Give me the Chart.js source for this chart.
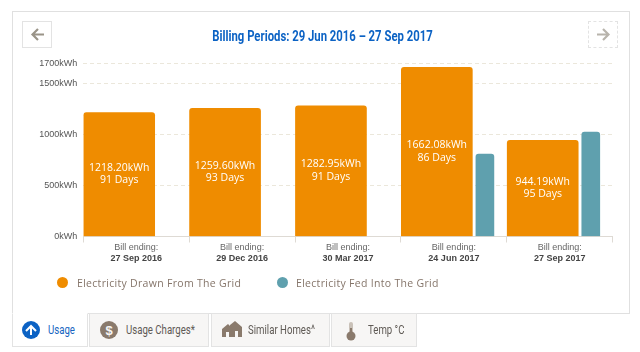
<!DOCTYPE html>
<html>
<head>
<meta charset="utf-8">
<title>Billing Periods</title>
<script src="https://cdn.jsdelivr.net/npm/chart.js@4"></script>
<style>
html, body { margin: 0; padding: 0; background: #fff; }
#page { position: relative; width: 640px; height: 352px; overflow: hidden; font-family: "Liberation Sans", sans-serif; filter: blur(0.35px); }
#card { position: absolute; left: 12px; top: 11px; width: 616px; height: 301px; border: 1px solid #e0e0e0; }
#chart { position: absolute; left: 0; top: 0; }
.nav { position: absolute; top: 21px; width: 28px; height: 25px; box-sizing: content-box; }
#prev { left: 22px; border: 1px solid #e3e3e3; }
#next { left: 588px; border: 1px dashed #e3e3e3; }
.nav svg { position: absolute; left: 7px; top: 5px; }
#title { position: absolute; left: 160px; width: 325px; top: 27px; text-align: center; font: 700 15px Roboto, sans-serif; color: #0b62c4; transform: scaleX(0.755); white-space: nowrap; }
.legend { position: absolute; top: 276px; font: 10.5px "Open Sans", sans-serif; letter-spacing: 0.3px; color: #85756a; line-height: 14px; white-space: nowrap; }
.dot { position: absolute; top: 277px; width: 11px; height: 11px; border-radius: 50%; }
.tab { position: absolute; top: 313px; height: 32px; background: #f7f6f5; border: 1px solid #e3e3e3; border-top: 1px solid #e3e3e3; box-sizing: content-box; }
.tab span { position: absolute; top: 8px; font: 400 13px Roboto, sans-serif; color: #5f5a55; white-space: nowrap; transform: scaleX(0.74); transform-origin: left center; }
.tab svg { position: absolute; top: 7px; }
#tabUsage { left: 12px; width: 74px; background: #fff; border-top: 1px solid #fff; }
#tabUsage span { color: #1665c1; }
</style>
</head>
<body>
<div id="page">
  <div id="card"></div>
  <canvas id="chart" width="640" height="352"></canvas>
  <div class="nav" id="prev"><svg width="15" height="15" viewBox="0 0 15 15"><path d="M14 7.5H3M8 2L2.5 7.5L8 13" fill="none" stroke="#9a9488" stroke-width="2.2"/></svg></div>
  <div class="nav" id="next"><svg width="15" height="15" viewBox="0 0 15 15"><path d="M1 7.5H12M7 2L12.5 7.5L7 13" fill="none" stroke="#b8b4ac" stroke-width="2.2"/></svg></div>
  <div id="title">Billing Periods: 29 Jun 2016 – 27 Sep 2017</div>
  <div class="dot" style="left:57px;background:#ef8c00"></div>
  <div class="legend" style="left:77px">Electricity Drawn From The Grid</div>
  <div class="dot" style="left:277px;background:#5fa0ae"></div>
  <div class="legend" style="left:296px">Electricity Fed Into The Grid</div>

  <div class="tab" id="tabUsage">
    <svg style="left:9px" width="18" height="18" viewBox="0 0 18 18"><circle cx="9" cy="9" r="9" fill="#0b62c4"/><path d="M4 10L9 5L14 10M9 6V14" fill="none" stroke="#fff" stroke-width="2"/></svg>
    <span style="left:35px">Usage</span>
  </div>
  <div class="tab" style="left:89px;width:118px">
    <svg style="left:10px" width="18" height="18" viewBox="0 0 18 18"><circle cx="9" cy="9" r="9" fill="#8a7a6c"/><text x="9" y="14" text-anchor="middle" font-family="Liberation Sans" font-weight="700" font-size="13" fill="#f7f6f5">$</text></svg>
    <span style="left:36px">Usage Charges*</span>
  </div>
  <div class="tab" style="left:211px;width:117px">
    <svg style="left:10px" width="20" height="16" viewBox="0 0 20 16"><path d="M0 8L6 3L8 5V4L13 0L20 6V16H0Z" fill="#8a7a6c"/><rect x="4" y="11" width="3" height="5" fill="#f7f6f5"/><rect x="13" y="10" width="3" height="6" fill="#f7f6f5"/></svg>
    <span style="left:36px">Similar Homes^</span>
  </div>
  <div class="tab" style="left:331px;width:84px">
    <svg style="left:14px" width="10" height="20" viewBox="0 0 10 20"><rect x="3" y="1" width="4" height="13" rx="2" fill="#c9c1b8"/><circle cx="5" cy="15" r="4.5" fill="#8a7a6c"/><rect x="4" y="7" width="2" height="8" fill="#8a7a6c"/></svg>
    <span style="left:36px">Temp °C</span>
  </div>
</div>

<script>
const billDates = ['27 Sep 2016', '29 Dec 2016', '30 Mar 2017', '24 Jun 2017', '27 Sep 2017'];
const drawnKwh = [1218.20, 1259.60, 1282.95, 1662.08, 944.19];
const billDays = [91, 93, 91, 86, 95];
// the picture has no label for the fed in bars, so these are read off the axis
const fedKwh = [null, null, null, 810, 1025];
const yTicks = [0, 500, 1000, 1500, 1700];

// Bars sit off the middle of each bill slot, so each series gets its own hidden x axis
const drawnAxisStart = -0.339;
const fedAxisStart = -0.793;

function toPoints(values) {
    return values.map((value, i) => ({ x: i, y: value }));
}

// Texts inside the orange bars and the two line labels below the axis
const barTextPlugin = {
    id: 'barText',
    afterDatasetsDraw(chart) {
        const ctx = chart.ctx;
        const bars = chart.getDatasetMeta(0).data;
        ctx.save();
        ctx.textAlign = 'center';
        ctx.textBaseline = 'middle';
        ctx.fillStyle = '#fff';
        ctx.font = '10.5px "Open Sans", sans-serif';
        bars.forEach((bar, i) => {
            const middle = (bar.y + bar.base) / 2;
            ctx.fillText(drawnKwh[i].toFixed(2) + 'kWh', bar.x, middle - 6.5);
            ctx.fillText(billDays[i] + ' Days', bar.x, middle + 6);
        });

        const xScale = chart.scales.x;
        billDates.forEach((date, i) => {
            const x = xScale.getPixelForTick(i);
            ctx.fillStyle = '#666';
            ctx.font = '9px "Liberation Sans", sans-serif';
            ctx.fillText('Bill ending:', x, 248);
            ctx.fillStyle = '#444';
            ctx.font = 'bold 9px "Liberation Sans", sans-serif';
            ctx.fillText(date, x, 258.5);
        });
        ctx.restore();
    }
};

new Chart(document.getElementById('chart'), {
    type: 'bar',
    data: {
        labels: billDates,
        datasets: [{
            label: 'Electricity Drawn From The Grid',
            data: toPoints(drawnKwh),
            xAxisID: 'xDrawn',
            backgroundColor: '#ef8c00',
            barThickness: 71,
            borderRadius: { topLeft: 3, topRight: 3 },
            borderSkipped: 'bottom'
        }, {
            label: 'Electricity Fed Into The Grid',
            data: toPoints(fedKwh),
            xAxisID: 'xFed',
            backgroundColor: '#5fa0ae',
            barThickness: 18,
            borderRadius: { topLeft: 3, topRight: 3 },
            borderSkipped: 'bottom'
        }]
    },
    options: {
        responsive: false,
        animation: false,
        grouped: false,
        layout: { padding: { top: 63.5, left: 0, right: 27.3, bottom: 109.5 } },
        plugins: {
            legend: { display: false },
            tooltip: { enabled: false }
        },
        scales: {
            x: {
                type: 'category',
                offset: true,
                grid: { offset: true, drawOnChartArea: false, color: '#dedad4', tickLength: 6 },
                border: { color: '#dedad4' },
                ticks: { display: false },
                afterFit: scale => { scale.height = 6; }
            },
            xDrawn: { type: 'linear', display: false, offset: false, min: drawnAxisStart, max: drawnAxisStart + billDates.length },
            xFed: { type: 'linear', display: false, offset: false, min: fedAxisStart, max: fedAxisStart + billDates.length },
            y: {
                min: 0,
                max: 1700,
                afterBuildTicks: scale => { scale.ticks = yTicks.map(value => ({ value })); },
                afterFit: scale => { scale.width = 83.3; },
                grid: { color: '#ebe7db', drawTicks: false },
                border: { display: false, dash: [4, 3] },
                ticks: {
                    padding: 6,
                    color: '#555',
                    font: { family: '"Liberation Sans", sans-serif', size: 9 },
                    callback: value => value + 'kWh'
                }
            }
        }
    },
    plugins: [barTextPlugin]
});
</script>
</body>
</html>
